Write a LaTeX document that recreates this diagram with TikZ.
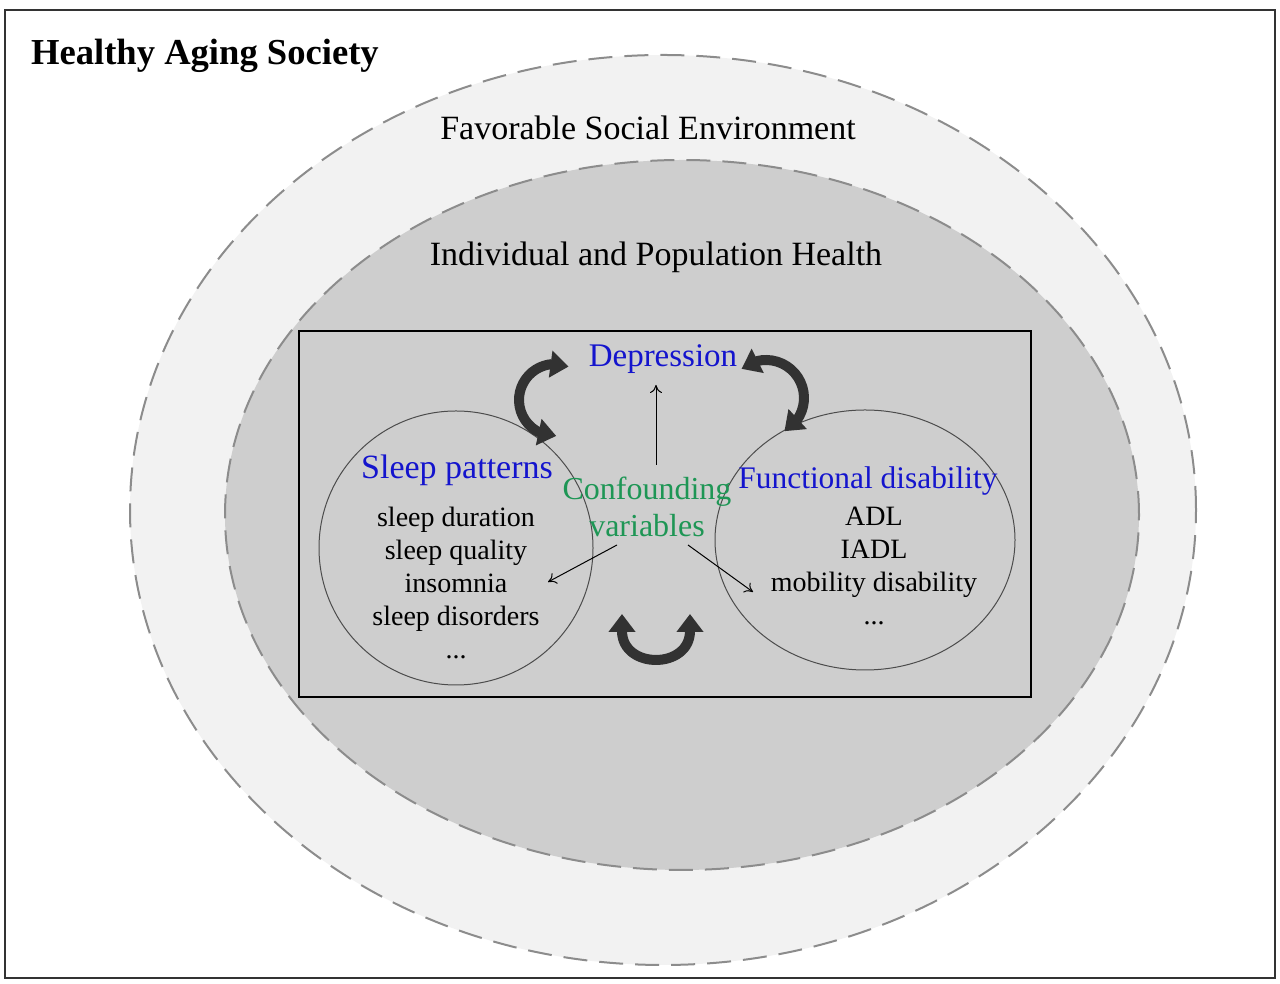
\documentclass[tikz,border=0pt]{standalone}
\usepackage{fontspec}
\setmainfont{Liberation Serif}
\usetikzlibrary{arrows.meta,bending}
\definecolor{outerfill}{RGB}{242,242,242}
\definecolor{innerfill}{RGB}{206,206,206}
\definecolor{dashgray}{RGB}{140,140,140}
\definecolor{labelblue}{RGB}{20,20,205}
\definecolor{labelgreen}{RGB}{30,150,85}
\definecolor{bigarrowgray}{RGB}{50,50,50}

\begin{document}
\begin{tikzpicture}[x=0.5pt, y=0.5pt,
        ring/.style={draw=dashgray, line width=1pt, dash pattern=on 12pt off 6pt},
        bigarrow/.style={draw=bigarrowgray, line width=5pt, {Triangle[width=13pt,length=9pt]}-{Triangle[width=13pt,length=9pt]}},
        straightheads/.style={{Triangle[width=13pt,length=9pt,quick]}-{Triangle[width=13pt,length=9pt,quick]}},
        thinarrow/.style={-{To[length=4pt,width=6pt]}, line width=0.5pt},
        headline/.style={font=\fontsize{17}{20}\selectfont},
        bluelabel/.style={text=labelblue, font=\fontsize{16.5}{19}\selectfont},
        itemlist/.style={align=center, font=\fontsize{14}{16.5}\selectfont}]
                    \useasboundingbox (0,0) rectangle (1280,984);
                    \draw [line width=1pt, draw=black!80] (5,6) rectangle (1275,974);
                    \draw [ring, fill=outerfill] (663,474) ellipse [x radius=533, y radius=455];
                    \draw [ring, fill=innerfill] (682,469) ellipse [x radius=457, y radius=355];
                    \draw [line width=0.8pt, fill=innerfill] (299,287) rectangle (1031,653);
                    \draw [line width=0.5pt, draw=black!70] (456,436) circle [radius=137];
                    \draw [line width=0.5pt, draw=black!70] (865,444) ellipse [x radius=150, y radius=130];
                    % labels
                    \node [anchor=west, font=\bfseries\fontsize{18.3}{22}\selectfont] (society) at (24,928) {Healthy Aging Society};
                    \node [headline] (environment) at (648,856) {Favorable Social Environment};
                    \node [headline] (health) at (656,727) {Individual and Population Health};
                    \node [bluelabel] (depression) at (663,625) {Depression};
                    \node [bluelabel, font=\fontsize{17}{20}\selectfont] (sleep) at (457,514) {Sleep patterns};
                    \node [bluelabel, font=\fontsize{15.7}{19}\selectfont] (disability) at (868,503) {Functional disability};
                    \node [align=center, text=labelgreen, font=\fontsize{16}{18.5}\selectfont] (confound) at (647,477) {Confounding\\variables};
                    \node [itemlist] (sleeplist) at (456,401) {sleep duration\\sleep quality\\insomnia\\sleep disorders\\...};
                    \node [itemlist] (disablist) at (874,418) {ADL\\IADL\\mobility disability\\...};
                    % thin arrows
                    \coordinate (up start) at (656,519);
                    \coordinate (up end) at (656,599);
                    \coordinate (left start) at (617,439);
                    \coordinate (left end) at (548,402);
                    \coordinate (right start) at (688,439);
                    \coordinate (right end) at (753,392);
                    \draw [thinarrow] (up start) -- (up end);
                    \draw [thinarrow] (left start) -- (left end);
                    \draw [thinarrow] (right start) -- (right end);
                    % curved double arrows
                    \draw [bigarrow] (555,584) ++(-88:36) arc [start angle=-88, end angle=-292, radius=36];
                    \draw [bigarrow] (766,586) ++(130:38) arc [start angle=130, end angle=-61, radius=38];
                    \draw [bigarrow, straightheads] (622,370) to [out=-90, in=-90, looseness=2.1] (690,370);
                \end{tikzpicture}
\end{document}
